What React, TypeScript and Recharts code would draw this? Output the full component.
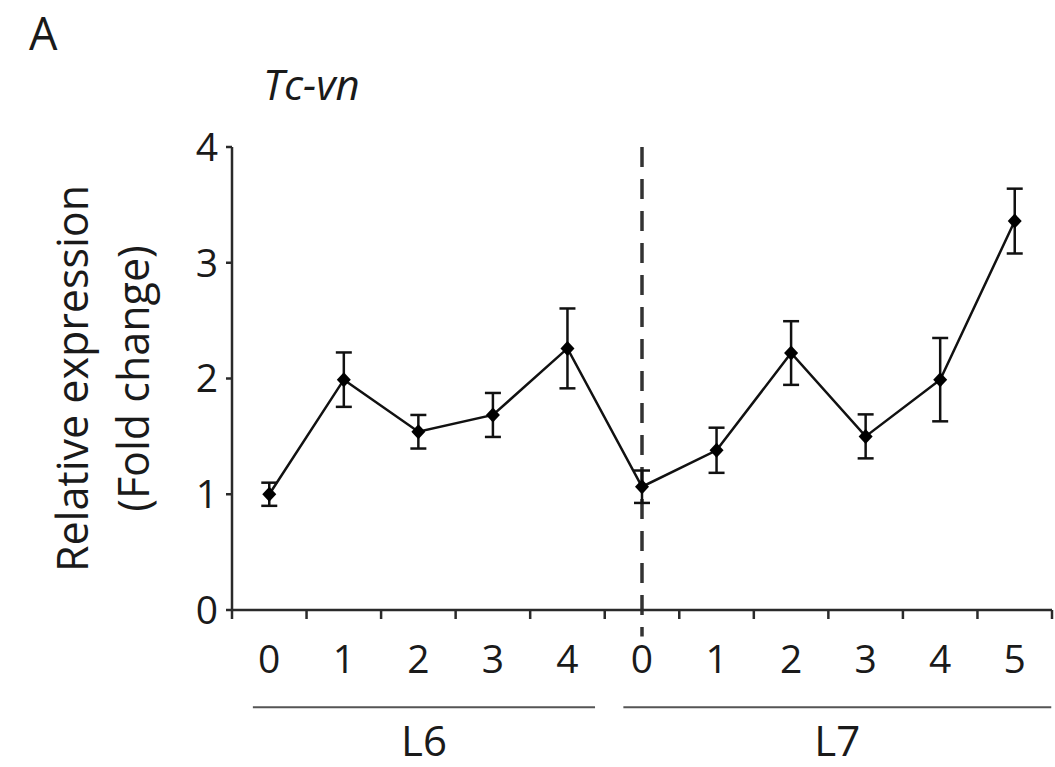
import React from 'react';
import { LineChart, Line, XAxis, YAxis, ErrorBar, ReferenceLine } from 'recharts';

// ---- data ----
const stageLabels = ['0', '1', '2', '3', '4', '0', '1', '2', '3', '4', '5'];
const expression = [1.0, 1.99, 1.54, 1.685, 2.26, 1.065, 1.38, 2.22, 1.5, 1.99, 3.36];
const errors = [0.1, 0.235, 0.145, 0.19, 0.345, 0.14, 0.195, 0.275, 0.19, 0.36, 0.28];
const yTicks = [0, 1, 2, 3, 4];
const groupNames = ['L6', 'L7'];
const groupFrom = [-0.22, 4.75];
const groupTo = [4.37, 10.49];
const moltIndex = 5;

const FONT = "'Open Sans', sans-serif";
const INK = '#1a1a1a';
const AXIS = '#2a2a2a';

const data = expression.map((v, i) => ({ idx: i, value: v, err: errors[i] }));
const centerTicks = stageLabels.map((_, i) => i);
const edgeTicks = [...centerTicks.map((i) => i - 0.5), stageLabels.length - 0.5];
const xDomain = [-0.5, stageLabels.length - 0.5];

const Diamond = (props: any) => {
  const { cx, cy, index } = props;
  if (cx == null || cy == null) return <g key={`d-${index}`} />;
  return (
    <polygon
      key={`d-${index}`}
      points={`${cx},${cy - 7.5} ${cx + 7},${cy} ${cx},${cy + 7.5} ${cx - 7},${cy}`}
      fill="#000"
    />
  );
};

const YLabel = (props: any) => {
  const vb = props.viewBox || { x: 172, y: 147, width: 60, height: 463 };
  const cy = vb.y + vb.height / 2;
  const x1 = vb.x - 84;
  const x2 = vb.x - 23;
  return (
    <g>
      <text
        x={x1}
        y={cy}
        transform={`rotate(-90, ${x1}, ${cy})`}
        textAnchor="middle"
        fontFamily={FONT}
        fontSize={43}
        fill={INK}
      >
        Relative expression
      </text>
      <text
        x={x2}
        y={cy}
        transform={`rotate(-90, ${x2}, ${cy})`}
        textAnchor="middle"
        fontFamily={FONT}
        fontSize={43}
        fill={INK}
      >
        (Fold change)
      </text>
    </g>
  );
};

export default function App() {
  return (
    <div style={{ position: 'absolute', left: 0, top: 0, width: 1055, height: 767, background: '#fff' }}>
      <svg
        width={1055}
        height={130}
        style={{ position: 'absolute', left: 0, top: 0, pointerEvents: 'none' }}
      >
        <text x={29} y={50} fontFamily={FONT} fontSize={45} fill={INK}>
          A
        </text>
        <text x={263} y={100} fontFamily={FONT} fontSize={42} fontStyle="italic" fill={INK}>
          Tc-vn
        </text>
      </svg>
      <LineChart
        width={1055}
        height={767}
        data={data}
        margin={{ top: 147, right: 3, bottom: 155, left: 172 }}
      >
        <XAxis
          xAxisId="edges"
          dataKey="idx"
          type="number"
          domain={xDomain}
          ticks={edgeTicks}
          interval={0}
          height={1}
          tickFormatter={() => ''}
          tickSize={9}
          tickLine={{ stroke: AXIS, strokeWidth: 2.5 }}
          axisLine={{ stroke: AXIS, strokeWidth: 2.5 }}
        />
        <XAxis
          xAxisId="labels"
          dataKey="idx"
          type="number"
          domain={xDomain}
          ticks={centerTicks}
          interval={0}
          height={1}
          tickFormatter={(v: number) => stageLabels[v] ?? ''}
          tickLine={false}
          axisLine={false}
          tickSize={8}
          tickMargin={26}
          tick={{ fontSize: 39, fill: INK, fontFamily: FONT }}
        />
        <YAxis
          type="number"
          domain={[0, 4]}
          ticks={yTicks}
          interval={0}
          width={60}
          tickSize={6}
          tickMargin={8}
          tickLine={{ stroke: AXIS, strokeWidth: 2.5 }}
          axisLine={{ stroke: AXIS, strokeWidth: 2.5 }}
          tick={{ fontSize: 39, fill: INK, fontFamily: FONT }}
          label={<YLabel />}
        />
        <ReferenceLine
          xAxisId="labels"
          segment={[
            { x: moltIndex, y: 4 },
            { x: moltIndex, y: -0.23 },
          ]}
          ifOverflow="visible"
          stroke="#333"
          strokeWidth={3.5}
          strokeDasharray="20 12"
        />
        {groupNames.map((g, i) => (
          <ReferenceLine
            key={g}
            xAxisId="labels"
            segment={[
              { x: groupFrom[i], y: -0.84 },
              { x: groupTo[i], y: -0.84 },
            ]}
            ifOverflow="visible"
            stroke="#555"
            strokeWidth={2}
            label={{ value: g, position: 'bottom', offset: 19, fontSize: 42, fill: INK, fontFamily: FONT }}
          />
        ))}
        <Line
          xAxisId="labels"
          dataKey="value"
          stroke="#111"
          strokeWidth={2.5}
          dot={Diamond}
          activeDot={false}
          isAnimationActive={false}
        >
          <ErrorBar dataKey="err" direction="y" width={8} stroke="#111" strokeWidth={2.5} isAnimationActive={false} />
        </Line>
      </LineChart>
    </div>
  );
}
